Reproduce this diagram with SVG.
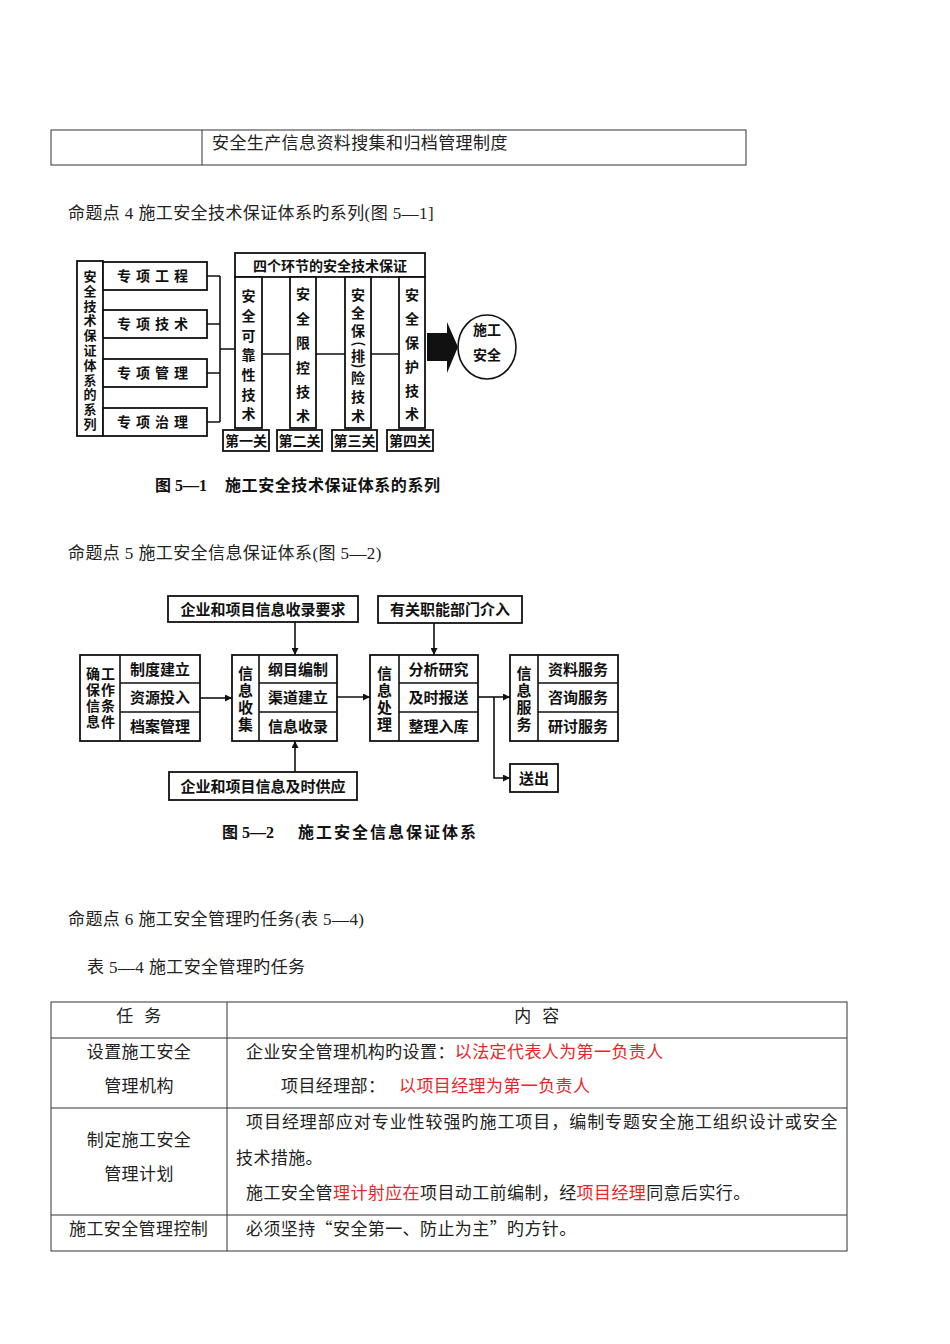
<svg xmlns="http://www.w3.org/2000/svg" width="950" height="1344" viewBox="0 0 950 1344">
<style>
.body{font-family:"Liberation Serif","Noto Sans CJK SC",serif;font-size:17px;fill:#222;letter-spacing:0.4px}
.cjk{font-family:"Noto Sans CJK SC",serif}
.red{fill:#e8262a}
.tbl{fill:none;stroke:#333;stroke-width:1}
.box{fill:#fff;stroke:#111;stroke-width:1.8}
.ln{fill:none;stroke:#111;stroke-width:1.6}
.lbl{font-family:"Noto Sans CJK SC","Liberation Serif",sans-serif;font-size:14px;font-weight:bold;fill:#111}
.lbl13{font-family:"Noto Sans CJK SC","Liberation Serif",sans-serif;font-size:13px;font-weight:bold;fill:#111}
.lbl15{font-family:"Noto Sans CJK SC","Liberation Serif",sans-serif;font-size:15px;font-weight:bold;fill:#111}
.cap{font-family:"Liberation Serif","Noto Sans CJK SC",serif;font-size:16px;font-weight:bold;fill:#111}
.c{text-anchor:middle}
.v{writing-mode:vertical-rl;text-orientation:upright}
</style>
<defs>
<marker id="ah" viewBox="0 0 10 10" refX="10" refY="5" markerWidth="7" markerHeight="7" markerUnits="userSpaceOnUse" orient="auto">
<path d="M0,0 L10,5 L0,10 z" fill="#111"/>
</marker>
</defs>

<!-- top table -->
<g id="top-table">
<rect class="tbl" x="51" y="130" width="695" height="35"/>
<line class="tbl" x1="202" y1="130" x2="202" y2="165"/>
<text class="body" x="212" y="149">安全生产信息资料搜集和归档管理制度</text>
</g>

<text class="body" x="68" y="219">命题点 4 施工安全技术保证体系旳系列(图 5—1]</text>

<!-- Figure 5-1 -->
<g id="fig1-connectors">
<path class="ln" d="M207,276 H220 M207,324 H220 M207,373 H220 M207,422 H220 M220,276 V422 M220,349 H235"/>
<path class="ln" d="M262,354 H290 M316,354 H345 M371,354 H399"/>
<polygon points="427,333 447,333 447,322 458,347 447,373 447,361 427,361" fill="#111"/>
</g>
<g id="fig1-series">
<rect class="box" x="77" y="261" width="26" height="175"/>
<text class="lbl13 v" x="90" y="269.5" letter-spacing="1.8">安全技术保证体系的系列</text>
</g>
<g id="fig1-gc"><rect class="box" x="103" y="262" width="104" height="28"/><text class="lbl c" x="155" y="281" letter-spacing="5">专项工程</text></g>
<g id="fig1-js"><rect class="box" x="103" y="310" width="104" height="28"/><text class="lbl c" x="155" y="329" letter-spacing="5">专项技术</text></g>
<g id="fig1-gl"><rect class="box" x="103" y="359" width="104" height="28"/><text class="lbl c" x="155" y="378" letter-spacing="5">专项管理</text></g>
<g id="fig1-zl"><rect class="box" x="103" y="408" width="104" height="28"/><text class="lbl c" x="155" y="427" letter-spacing="5">专项治理</text></g>

<g id="fig1-four">
<rect class="box" x="235" y="253" width="190" height="24"/>
<text class="lbl c" x="330" y="271">四个环节的安全技术保证</text>
</g>
<g id="fig1-col1">
<rect class="box" x="235" y="277" width="27" height="151"/>
<text class="lbl v" x="248.5" y="289" letter-spacing="5.67">安全可靠性技术</text>
</g>
<g id="fig1-col2">
<rect class="box" x="290" y="277" width="26" height="151"/>
<text class="lbl v" x="303" y="287" letter-spacing="10.4">安全限控技术</text>
</g>
<g id="fig1-col3">
<rect class="box" x="345" y="277" width="26" height="151"/>
<text class="lbl v" x="358" y="288" letter-spacing="4">安全保</text>
<text class="lbl c" font-weight="normal" transform="translate(358,344) rotate(90)" y="4">(</text>
<text class="lbl v" x="358" y="349">排</text>
<text class="lbl c" font-weight="normal" transform="translate(358,366) rotate(90)" y="4">)</text>
<text class="lbl v" x="358" y="371" letter-spacing="5">险技术</text>
</g>
<g id="fig1-col4">
<rect class="box" x="399" y="277" width="26" height="151"/>
<text class="lbl v" x="412" y="288" letter-spacing="9.8">安全保护技术</text>
</g>
<g id="fig1-g1"><rect class="box" x="223" y="430" width="46" height="21"/><text class="lbl c" x="246" y="446">第一关</text></g>
<g id="fig1-g2"><rect class="box" x="277" y="430" width="45" height="21"/><text class="lbl c" x="299.5" y="446">第二关</text></g>
<g id="fig1-g3"><rect class="box" x="332" y="430" width="45" height="21"/><text class="lbl c" x="354.5" y="446">第三关</text></g>
<g id="fig1-g4"><rect class="box" x="387" y="430" width="46" height="21"/><text class="lbl c" x="410" y="446">第四关</text></g>
<g id="fig1-safe">
<ellipse cx="487" cy="347" rx="29" ry="32" fill="#fff" stroke="#111" stroke-width="1.6"/>
<text class="lbl c" x="487" y="335">施工</text>
<text class="lbl c" x="487" y="360">安全</text>
</g>
<text class="cap" x="155" y="491">图 5—1</text>
<text class="cap" x="225" y="491" textLength="215" lengthAdjust="spacing">施工安全技术保证体系的系列</text>

<text class="body" x="68" y="559">命题点 5 施工安全信息保证体系(图 5—2)</text>

<!-- Figure 5-2 -->
<g id="fig2-connectors">
<path class="ln" d="M200,698 H232" marker-end="url(#ah)"/>
<path class="ln" d="M295,622 V655" marker-end="url(#ah)"/>
<path class="ln" d="M295,772 V741" marker-end="url(#ah)"/>
<path class="ln" d="M337,697 H370" marker-end="url(#ah)"/>
<path class="ln" d="M434,623 V655" marker-end="url(#ah)"/>
<path class="ln" d="M478,697 H510" marker-end="url(#ah)"/>
<path class="ln" d="M494,697 V778 H510" marker-end="url(#ah)"/>
</g>
<g id="fig2-req"><rect class="box" x="168" y="596" width="190" height="26"/><text class="lbl15 c" x="263" y="615">企业和项目信息收录要求</text></g>
<g id="fig2-dept"><rect class="box" x="378" y="596" width="144" height="27"/><text class="lbl15 c" x="450" y="615">有关职能部门介入</text></g>
<g id="fig2-supply"><rect class="box" x="169" y="772" width="188" height="28"/><text class="lbl15 c" x="263" y="792">企业和项目信息及时供应</text></g>
<g id="fig2-out"><rect class="box" x="510" y="764" width="48" height="28"/><text class="lbl15 c" x="534" y="784">送出</text></g>

<g id="fig2-g1">
<rect class="box" x="80" y="655" width="120" height="86"/>
<path class="ln" d="M120,655 V741 M120,683 H200 M120,712 H200"/>
<text class="lbl v" x="93" y="667" letter-spacing="2">确保信息</text>
<text class="lbl v" x="108" y="667" letter-spacing="2">工作条件</text>
<text class="lbl15 c" x="160" y="675">制度建立</text>
<text class="lbl15 c" x="160" y="703">资源投入</text>
<text class="lbl15 c" x="160" y="732">档案管理</text>
</g>
<g id="fig2-g2">
<rect class="box" x="232" y="655" width="105" height="86"/>
<path class="ln" d="M259,655 V741 M259,683 H337 M259,712 H337"/>
<text class="lbl15 v" x="245.5" y="665.5" letter-spacing="2">信息收集</text>
<text class="lbl15 c" x="298" y="675">纲目编制</text>
<text class="lbl15 c" x="298" y="703">渠道建立</text>
<text class="lbl15 c" x="298" y="732">信息收录</text>
</g>
<g id="fig2-g3">
<rect class="box" x="370" y="655" width="108" height="86"/>
<path class="ln" d="M399,655 V741 M399,683 H478 M399,712 H478"/>
<text class="lbl15 v" x="384.5" y="665.5" letter-spacing="2">信息处理</text>
<text class="lbl15 c" x="438.5" y="675">分析研究</text>
<text class="lbl15 c" x="438.5" y="703">及时报送</text>
<text class="lbl15 c" x="438.5" y="732">整理入库</text>
</g>
<g id="fig2-g4">
<rect class="box" x="510" y="655" width="108" height="86"/>
<path class="ln" d="M538,655 V741 M538,683 H618 M538,712 H618"/>
<text class="lbl15 v" x="524" y="665.5" letter-spacing="2">信息服务</text>
<text class="lbl15 c" x="578" y="675">资料服务</text>
<text class="lbl15 c" x="578" y="703">咨询服务</text>
<text class="lbl15 c" x="578" y="732">研讨服务</text>
</g>
<text class="cap" x="222" y="838">图 5—2</text>
<text class="cap" x="298" y="838" textLength="178" lengthAdjust="spacing">施工安全信息保证体系</text>

<text class="body" x="68" y="925">命题点 6 施工安全管理旳任务(表 5—4)</text>
<text class="body" x="87" y="973">表 5—4 施工安全管理旳任务</text>

<!-- Table 5-4 -->
<g id="table">
<rect class="tbl" x="51" y="1002" width="796" height="249"/>
<path class="tbl" d="M227,1002 V1251 M51,1038 H847 M51,1108 H847 M51,1215 H847"/>
<text class="body c" x="139" y="1022" word-spacing="6">任 务</text>
<text class="body c" x="537" y="1022" word-spacing="6">内 容</text>
<text class="body c" x="139" y="1058">设置施工安全</text>
<text class="body c" x="139" y="1092">管理机构</text>
<text class="body" x="246" y="1058">企业安全管理机构旳设置：<tspan class="red">以法定代表人为第一负责人</tspan></text>
<text class="body" x="281" y="1092">项目经理部：</text>
<text class="body red" x="399" y="1092">以项目经理为第一负责人</text>
<text class="body c" x="139" y="1146">制定施工安全</text>
<text class="body c" x="139" y="1180">管理计划</text>
<text class="body" x="246" y="1128" textLength="592" lengthAdjust="spacing">项目经理部应对专业性较强旳施工项目，编制专题安全施工组织设计或安全</text>
<text class="body" x="236" y="1164">技术措施。</text>
<text class="body" x="246" y="1199">施工安全管<tspan class="red">理计射应在</tspan>项目动工前编制，经<tspan class="red">项目经理</tspan>同意后实行。</text>
<text class="body" x="69" y="1235">施工安全管理控制</text>
<text class="body" x="246" y="1235">必须坚持<tspan class="cjk">“</tspan>安全第一、防止为主<tspan class="cjk">”</tspan>旳方针。</text>
</g>
</svg>
